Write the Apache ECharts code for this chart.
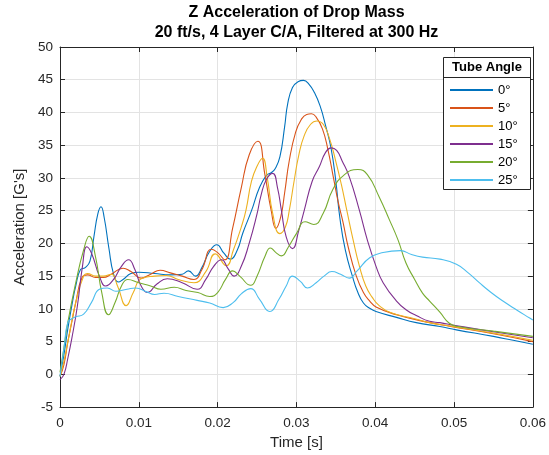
<!DOCTYPE html>
<html>
<head>
<meta charset="utf-8">
<script src="https://cdn.jsdelivr.net/npm/echarts@6/dist/echarts.min.js"></script>
<style>html,body{margin:0;padding:0;background:#fff}#chart{width:549px;height:455px}</style>
</head>
<body>
<div id="chart"></div>
<script>
// Time values in milliseconds, acceleration in G's
const seriesNames = ['0°', '5°', '10°', '15°', '20°', '25°'];
const colors = ['#0072BD', '#D95319', '#EDB120', '#7E2F8E', '#77AC30', '#4DBEEE'];

const t0 = [0,0.5,1,1.5,2,2.6,3.2,3.8,4.3,4.8,5.2,5.6,6.2,6.8,7.4,8,9,10,12,14,15.5,16.3,17.2,18,19,19.9,20.8,21.6,22.5,23.2,24.3,25.3,26.2,26.8,27.3,27.9,28.5,28.9,29.5,30.2,30.9,31.6,32.3,33,33.7,34.4,35,35.5,36.2,37.1,37.8,38.5,39.3,40.1,42.7,45.2,48.2,50.3,55,57.5,60];
const a0 = [-0.3,3,7,10.5,13.5,16,16.3,17.3,21,24.5,25.6,24,19.3,15.3,14.1,14.5,15.4,15.6,15.4,15.2,15.3,15.8,15,16.3,18.8,19.8,18.5,17.6,19,21.6,25,28.5,30.4,30.8,31.4,33.2,37.8,41.4,43.8,44.7,44.9,44.3,43,41,38,34.5,29.5,24,19,15,12.5,10.9,10.1,9.6,8.7,7.9,7.3,6.8,5.8,5.2,4.6];

const t5 = [0,0.5,1,1.5,2,2.8,3.5,4.5,5.5,6.5,8,9,10.3,11.5,12.7,14,15.5,17,18,19.2,20,20.9,21.9,23,24,25.1,26,26.8,27.4,28,28.5,29.1,29.9,30.6,31.3,31.9,32.5,33.3,34,34.7,35.3,35.9,36.6,37.6,38.5,39.3,40.1,42.7,46.9,49.4,55,60];
const a5 = [-0.3,1.5,5,8,11,14.8,15.2,14.8,14.8,15.3,16.2,15.7,14.7,15.3,15.9,15.5,15.0,14.5,16,19.1,18.6,17.5,22.3,28.5,33.5,35.6,30.5,25,22.3,24,27.7,32.7,37,38.9,39.7,39.8,39.3,37.5,34.3,30,26.3,23.3,19.3,15,12.5,11.2,10.3,9.1,7.9,7.35,6.2,5.0];

const t10 = [0,0.5,1,2,3,3.5,4.5,5.5,6.5,7.3,8.4,9.3,10.3,12,13.5,15,17,18.5,19.7,21.1,22,23,23.6,24.3,25,25.7,26.3,27,27.9,28.6,29.1,29.7,30.3,31,31.8,32.6,33.4,34.2,35,35.7,36.4,37.2,38,38.8,39.6,40.5,42,45,46.9,49.4,55,60];
const a10 = [-0.3,2,5,11,15,15.4,15,15,15.3,13.5,10.5,12.5,14.6,15,15.1,14.5,14,15.7,18.4,16.6,19,22.5,25.1,29.5,31.8,33,30,24.5,21.5,22.5,25.1,29.5,33.5,36.5,38.2,38.7,38.2,36,32.5,29,25,20.5,16.5,13.5,11.8,10.5,9.4,8.5,7.9,7.4,6.3,5.2];

const t15 = [0,0.5,1,1.5,2.2,2.85,3.4,4,5,5.8,6.8,7.8,8.7,9.5,10.3,11.1,12.3,13.6,15.5,17.4,18.5,19.5,20.5,21.3,22.1,23,24,25,25.5,26.2,27,27.6,28.1,28.7,29.5,30.3,31,32,32.9,33.7,34.4,35.1,35.8,36.7,38,39,40.1,41,42.7,44,45.2,46.9,48.2,50,55,60];
const a15 = [-0.8,0,2.5,5.5,10.4,16.5,19.5,18.5,15,13.5,14.5,16.5,17.5,16,13.5,12.5,13.8,14.6,14,13,14.5,16.5,17.5,16.2,15,16.5,20,24.5,27.3,29.8,30.7,28.5,25,21,19.2,22,25.1,29.5,31.7,33.9,34.6,34.2,32.6,30.2,25,20.5,16.5,14,11.2,9.8,9,8.1,7.9,7.5,6.5,5.6];

const t20 = [0,0.5,1,2,3,3.7,4.5,5.3,6.15,7,7.8,8.6,10,11.5,12.8,14.5,16,17.5,19,20,21,21.9,22.8,24.2,25,26,26.7,27.4,28.1,29,30,31.1,32.2,33.4,34.6,36,37.8,39,40.5,41.8,42.9,43.9,45,46,46.9,48.2,49.4,50.5,55,60];
const a20 = [0.3,4,8,14,19,21.1,18,12.5,9.1,11,13.5,14.5,14,13.5,13,13.3,12.8,12.5,11.9,12.5,14.5,15.8,15,13.6,15,18,19.3,18.6,18.1,19.5,21.5,23.3,22.9,24.6,28.2,30.4,31.3,30.5,27.1,23.6,20.5,17,14.5,12.4,11.2,9.5,7.8,7.3,6.6,5.8];

const t25 = [0,0.5,1,1.5,2,3,4,5,6,7.1,8.5,9.6,11,12,13.2,15,17.4,19,20.7,22,23,24.2,25.3,26.6,27.8,28.7,29.5,30.5,31.4,32.5,33.5,34.5,35.6,36.7,37.7,39.3,41,43.2,44.6,46,48.2,50.3,51.8,53.2,54.7,56.2,58,59.6,60];
const a25 = [-0.3,4,8,8.5,8.8,9.2,11,13,13.2,12.7,13,13.2,12.6,12.2,12.4,11.9,11.3,10.9,10.2,11,12.3,13.1,11.5,9.6,11.5,13.5,15,14.2,13.2,14,15,15.7,15.3,14.7,15.8,17.8,18.6,18.9,18.3,17.9,17.6,16.8,15.5,14,12.5,11.2,9.8,8.6,8.3];

const times = [t0, t5, t10, t15, t20, t25];
const accels = [a0, a5, a10, a15, a20, a25];

const xTicks = { min: 0, max: 0.06, interval: 0.01 };
const yTicks = { min: -5, max: 50, interval: 5 };

const titleLines = ['Z Acceleration of Drop Mass', '20 ft/s, 4 Layer C/A, Filtered at 300 Hz'];
const xName = 'Time [s]';
const yName = "Acceleration [G's]";
const legendTitle = 'Tube Angle';

const FONT = '"Liberation Sans", Arial, Helvetica, sans-serif';
const AX = '#262626';

const chart = echarts.init(document.getElementById('chart'), null, { renderer: 'canvas' });

const series = seriesNames.map((name, i) => ({
  name,
  type: 'line',
  xAxisIndex: 0,
  yAxisIndex: 0,
  showSymbol: false,
  symbol: 'none',
  smooth: 0.5,
  lineStyle: { color: colors[i], width: 1.1 },
  itemStyle: { color: colors[i] },
  data: times[i].map((t, j) => [t / 1000, accels[i][j]]),
  z: 3 + i
}));

const fmtX = v => String(Math.round(v * 100) / 100);

const option = {
  animation: false,
  backgroundColor: '#ffffff',
  textStyle: { fontFamily: FONT },
  title: {
    text: titleLines.join('\n'),
    left: 296.5, top: 3, textAlign: 'center', padding: 0,
    textStyle: { fontFamily: FONT, fontSize: 16, fontWeight: 'bold', color: '#000', lineHeight: 20 }
  },
  grid: { left: 60, right: 16, top: 47, bottom: 47, containLabel: false },
  xAxis: [{
    type: 'value', min: xTicks.min, max: xTicks.max, interval: xTicks.interval,
    name: xName, nameLocation: 'middle', nameGap: 27,
    nameTextStyle: { fontFamily: FONT, fontSize: 15, color: AX },
    axisLine: { show: true, onZero: false, lineStyle: { color: AX, width: 1 } },
    axisTick: { show: true, inside: true, length: 5, lineStyle: { color: AX } },
    axisLabel: { fontFamily: FONT, fontSize: 13.5, color: AX, margin: 9, formatter: fmtX },
    splitLine: { show: true, lineStyle: { color: '#e3e3e3', width: 1 } }
  }, {
    type: 'value', position: 'top', min: xTicks.min, max: xTicks.max, interval: xTicks.interval,
    axisLine: { show: true, onZero: false, lineStyle: { color: AX, width: 1 } },
    axisTick: { show: true, inside: true, length: 5, lineStyle: { color: AX } },
    axisLabel: { show: false }, splitLine: { show: false }
  }],
  yAxis: [{
    type: 'value', min: yTicks.min, max: yTicks.max, interval: yTicks.interval,
    name: yName, nameLocation: 'middle', nameGap: 27, nameRotate: 90,
    nameTextStyle: { fontFamily: FONT, fontSize: 15, color: AX },
    axisLine: { show: true, onZero: false, lineStyle: { color: AX, width: 1 } },
    axisTick: { show: true, inside: true, length: 5, lineStyle: { color: AX } },
    axisLabel: { fontFamily: FONT, fontSize: 13.5, color: AX, margin: 7 },
    splitLine: { show: true, lineStyle: { color: '#e3e3e3', width: 1 } }
  }, {
    type: 'value', position: 'right', min: yTicks.min, max: yTicks.max, interval: yTicks.interval,
    axisLine: { show: true, onZero: false, lineStyle: { color: AX, width: 1 } },
    axisTick: { show: true, inside: true, length: 5, lineStyle: { color: AX } },
    axisLabel: { show: false }, splitLine: { show: false }
  }],
  legend: {
    orient: 'vertical', left: 450, top: 83, padding: 0, z: 30,
    itemWidth: 43, itemHeight: 2, itemGap: 4, icon: 'rect',
    textStyle: { fontFamily: FONT, fontSize: 13, color: '#000', lineHeight: 14 },
    data: seriesNames
  },
  graphic: [
    { type: 'rect', z: 20, shape: { x: 443.5, y: 57.5, width: 87, height: 132 },
      style: { fill: '#fff', stroke: AX, lineWidth: 1 } },
    { type: 'line', z: 21, shape: { x1: 443.5, y1: 77.5, x2: 530.5, y2: 77.5 },
      style: { stroke: AX, lineWidth: 1 } },
    { type: 'text', z: 21, x: 487, y: 67, style: { text: legendTitle, font: 'bold 13px ' + FONT, fill: '#000', textAlign: 'center', textVerticalAlign: 'middle' } }
  ],
  series
};
chart.setOption(option);
</script>
</body>
</html>
